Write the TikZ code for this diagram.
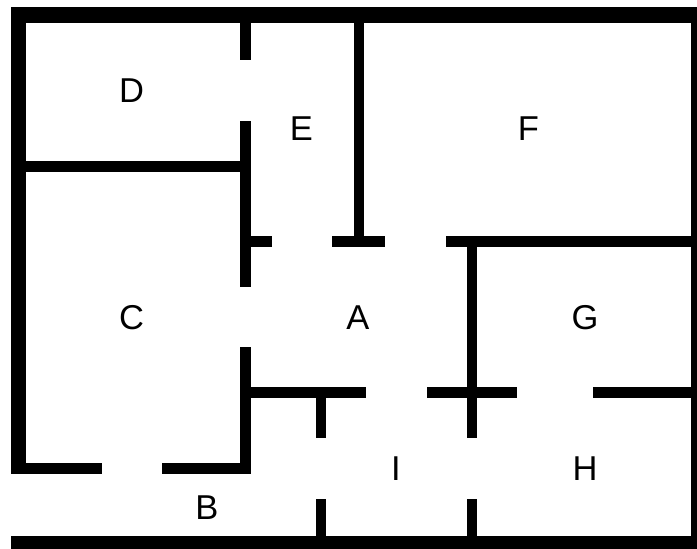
\documentclass[tikz,border=0pt]{standalone}
\usepackage{fontspec}
\setmainfont{Liberation Sans}
\tikzset{
  room/.style={inner sep=0pt,outer sep=0pt,anchor=center,text height=25pt,text depth=0pt,font=\fontsize{34.5pt}{36pt}\selectfont,text=black},
  wall/.style={fill=black,draw=none}
}
\begin{document}
\begin{tikzpicture}[x=1pt,y=-1pt]
\useasboundingbox (0,0) rectangle (697,549);
% outer walls
\fill[wall] (10.5,7) rectangle (697,22.5);
\fill[wall] (10.5,7) rectangle (26,474);
\fill[wall] (691,22) rectangle (697,536.5);
\fill[wall] (11,536) rectangle (697,549);
% C south wall
\fill[wall] (10.5,463) rectangle (101.5,474);
\fill[wall] (162,463) rectangle (250.5,474);
% x = 245 wall
\fill[wall] (240,22) rectangle (250.5,60);
\fill[wall] (240,121) rectangle (250.5,287.3);
\fill[wall] (240,347.3) rectangle (250.5,474);
% D/C wall
\fill[wall] (26,160.5) rectangle (240.5,171.5);
% y = 241 wall
\fill[wall] (250,236) rectangle (272,247);
\fill[wall] (332.3,236) rectangle (385,247);
\fill[wall] (445.7,236) rectangle (691.5,247);
% E/F wall
\fill[wall] (353.7,22) rectangle (364,236.5);
% x = 472 wall
\fill[wall] (467,246.5) rectangle (477.3,438.3);
\fill[wall] (467,498.7) rectangle (477.3,536.5);
% y = 393 wall
\fill[wall] (250,387.3) rectangle (366.3,398.3);
\fill[wall] (426.7,387.3) rectangle (517.3,398.3);
\fill[wall] (593,387.3) rectangle (691.5,398.3);
% x = 321 wall
\fill[wall] (316,398) rectangle (326.3,438.3);
\fill[wall] (316,498.7) rectangle (326.3,536.5);
% labels
\node[room] (A) at (358,317) {A};
\node[room] (B) at (207,507) {B};
\node[room] (C) at (131.5,317) {C};
\node[room] (D) at (131.5,90) {D};
\node[room] (E) at (301.5,128) {E};
\node[room] (F) at (528.5,128) {F};
\node[room] (G) at (585,317) {G};
\node[room] (H) at (585,468) {H};
\node[room] (I) at (396,468) {I};
\end{tikzpicture}
\end{document}
